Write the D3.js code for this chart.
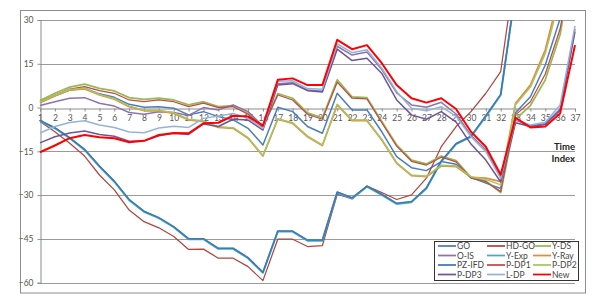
<!DOCTYPE html>
<html>
<head>
<meta charset="utf-8">
<script src="https://cdn.jsdelivr.net/npm/d3@7"></script>
<style>
  body { margin: 0; background: #fff; }
  svg text { font-family: Lato, "Open Sans", sans-serif; }
</style>
</head>
<body>
<div id="chart"></div>
<script>
// time index categories
var timeIndex = [1,2,3,4,5,6,7,8,9,10,11,12,13,14,15,16,17,18,19,20,21,22,23,24,25,26,27,28,29,30,31,32,33,34,35,36,37];
var yTicks = [30, 15, 0, -15, -30, -45, -60];

// series values (values above 30 run off the top of the plot)
var GO      = [1.8,4.0,6.0,6.6,4.7,3.5,1.1,0.1,0.3,-0.2,-2.5,-1.4,-3.1,-4.2,-7.1,-12.8,0.1,-1.4,-6.5,-8.8,4.9,-0.8,-0.8,-8.3,-16.8,-20.6,-21.6,-18.5,-19.4,-23.9,-25.9,-27.7,-1.8,3.7,14.6,30.5,52];
var HD_GO   = [-4.8,-8.3,-12.2,-16.6,-23.1,-28.2,-35.1,-39.1,-41.2,-44.2,-48.6,-48.5,-51.6,-51.6,-54.5,-59.3,-45.1,-45.1,-47.6,-47.3,-29.7,-31.3,-26.9,-29.1,-31.5,-29.9,-24.2,-13.4,-6.5,-1.4,4.9,12.3,48,62,70,78,85];
var Y_DS    = [2.4,4.9,7.0,8.0,6.6,5.7,3.4,2.8,3.2,2.6,0.9,2.0,0.3,0.7,-2.0,-6.5,4.8,3.2,-1.8,-3.5,9.5,3.7,3.4,-4.8,-12.8,-18.0,-19.3,-16.6,-18.2,-23.9,-25.1,-29.1,-4.0,0.7,9.5,25.0,55];
var O_IS    = [0.7,2.0,3.2,3.4,1.5,0.5,-1.7,-2.3,-1.4,-1.7,-2.7,0.0,-0.8,0.9,-1.4,-6.3,8.2,8.5,6.0,5.6,21.0,18.0,19.0,13.0,5.0,0.9,0.1,1.8,-2.2,-9.5,-14.5,-24.0,-4.3,-6.3,-5.5,-0.5,27.0];
var Y_Exp   = [-4.6,-7.1,-10.5,-14.5,-20.2,-25.4,-31.7,-35.7,-37.9,-41.0,-45.1,-45.1,-48.4,-48.4,-51.6,-56.6,-42.5,-42.5,-45.6,-45.6,-29.1,-31.1,-27.1,-29.9,-33.0,-32.4,-27.7,-18.5,-12.5,-10.0,-3.0,4.3,40,58,68,76,84];
var Y_Ray   = [1.7,4.0,6.0,6.4,4.3,2.9,0.3,-1.1,-1.1,-2.0,-4.2,-4.8,-6.8,-7.1,-10.5,-16.6,-4.0,-5.4,-10.0,-13.0,0.9,-4.5,-4.5,-11.1,-19.1,-23.3,-23.7,-20.0,-20.2,-23.9,-24.2,-25.4,1.5,7.7,19.7,40,60];
var PZ_IFD  = [-4.4,-6.9,-10.3,-14.3,-20.0,-25.2,-31.5,-35.5,-37.7,-40.8,-44.9,-44.9,-48.2,-48.2,-51.4,-56.4,-42.3,-42.3,-45.4,-45.4,-28.9,-30.9,-26.9,-29.7,-32.8,-32.2,-27.5,-18.3,-12.3,-9.8,-2.8,4.5,40,58,68,76,84];
var P_DP1   = [2.0,4.3,6.3,7.2,5.8,4.9,2.6,2.0,2.6,2.0,0.3,1.5,0.0,0.3,-2.3,-6.8,4.3,2.6,-2.3,-4.0,8.7,3.2,3.0,-5.2,-13.2,-18.4,-19.7,-17.0,-18.6,-24.2,-25.4,-28.8,-2.5,2.0,11.5,27,55];
var P_DP2   = [1.9,4.2,6.2,6.6,4.5,3.1,0.5,-0.9,-0.9,-1.8,-4.0,-4.6,-6.6,-6.9,-10.3,-16.4,-3.8,-5.2,-9.8,-12.8,1.1,-4.3,-4.3,-10.9,-18.9,-23.1,-23.5,-19.8,-20.0,-23.7,-24.6,-26.5,1.0,7.0,18.5,38,58];
var P_DP3   = [-12.1,-10.0,-8.7,-8.0,-9.2,-9.8,-11.5,-11.4,-9.7,-8.8,-9.2,-5.6,-6.5,-4.0,-4.3,-7.7,7.7,8.2,5.8,5.3,20.0,16.1,16.9,11.7,2.6,-2.5,-4.0,-1.4,-5.0,-12.5,-18.0,-25.5,-5.2,-6.5,-5.8,-1.0,26.0];
var L_DP    = [-8.7,-6.5,-5.1,-4.5,-6.0,-6.8,-8.4,-8.6,-7.0,-6.4,-6.8,-3.7,-2.9,-2.0,-3.7,-7.1,9.0,9.2,6.5,6.3,21.8,18.8,19.8,13.5,5.5,-0.2,-1.1,0.3,-3.0,-10.0,-15.1,-24.3,-4.0,-6.0,-5.0,0.9,28.0];
var New     = [-15.3,-13.0,-10.5,-9.4,-10.2,-10.5,-11.9,-11.4,-9.4,-8.7,-8.8,-5.4,-5.2,-2.8,-3.1,-6.2,9.5,10.0,7.7,7.7,23.2,20.0,21.4,15.2,7.7,3.2,1.7,3.2,-0.5,-8.3,-13.4,-23.0,-3.5,-6.8,-6.5,-2.0,21.4];

var seriesNames = ["GO","HD-GO","Y-DS","O-IS","Y-Exp","Y-Ray","PZ-IFD","P-DP1","P-DP2","P-DP3","L-DP","New"];
var seriesValues = [GO, HD_GO, Y_DS, O_IS, Y_Exp, Y_Ray, PZ_IFD, P_DP1, P_DP2, P_DP3, L_DP, New];
var seriesColors = ["#4A7EBB","#B0463F","#98B954","#8B74B0","#46AAC5","#E8893A","#3F78B5","#BE4B48","#A6C463","#6F5597","#95B3D7","#FF0000"];
var seriesWidths = [1.5,1.25,1.75,1.5,2,1.75,1.5,1.25,1.5,1.5,1.5,2];

var W = 605, H = 305;
var svg = d3.select("#chart").append("svg")
  .attr("width", W)
  .attr("height", H);

// outer chart border
svg.append("rect")
  .attr("x", 20.5).attr("y", 10.5)
  .attr("width", 565).attr("height", 282.5)
  .attr("fill", "none")
  .attr("stroke", "#8c8c8c");

var x = d3.scalePoint().domain(timeIndex).range([40, 575]);
var y = d3.scaleLinear().domain([-60, 30]).range([282.7, 20]);

// gridlines
svg.append("g")
  .selectAll("line")
  .data(yTicks.filter(function(d) { return d !== 0; }))
  .enter().append("line")
  .attr("x1", 40).attr("x2", 575)
  .attr("y1", function(d) { return Math.round(y(d)) + 0.5; })
  .attr("y2", function(d) { return Math.round(y(d)) + 0.5; })
  .attr("stroke", "#9a9a9a")
  .attr("stroke-width", 1);

// y axis
var yAxis = svg.append("g")
  .attr("transform", "translate(40.5,0)")
  .call(d3.axisLeft(y).tickValues(yTicks).tickSize(3).tickPadding(4).tickFormat(d3.format("d")));
yAxis.selectAll("line, path").attr("stroke", "#8c8c8c");
yAxis.selectAll("text").attr("fill", "#555").style("font-size", "8.5px");

// x axis through zero
var xAxis = svg.append("g")
  .attr("transform", "translate(0," + (Math.round(y(0)) + 0.5) + ")")
  .call(d3.axisBottom(x).tickSize(3).tickPadding(3));
xAxis.selectAll("line, path").attr("stroke", "#8c8c8c");
xAxis.selectAll("text").attr("fill", "#555").style("font-size", "8.5px");

// axis title
var title = svg.append("text")
  .attr("text-anchor", "end")
  .attr("fill", "#222")
  .style("font-size", "9.5px")
  .style("font-weight", "bold");
title.append("tspan").attr("x", 575).attr("y", 150).text("Time");
title.append("tspan").attr("x", 575).attr("y", 162).text("Index");

// clip lines to the plot area
svg.append("clipPath").attr("id", "plotClip")
  .append("rect")
  .attr("x", 30).attr("y", y(30))
  .attr("width", 560).attr("height", y(-60) - y(30));

var line = d3.line()
  .x(function(d, i) { return x(timeIndex[i]); })
  .y(function(d) { return y(d); });

svg.append("g")
  .attr("clip-path", "url(#plotClip)")
  .selectAll("path")
  .data(seriesValues)
  .enter().append("path")
  .attr("d", line)
  .attr("fill", "none")
  .attr("stroke", function(d, i) { return seriesColors[i]; })
  .attr("stroke-width", function(d, i) { return seriesWidths[i]; })
  .attr("stroke-linejoin", "round");

// legend
var legend = svg.append("g");
legend.append("rect")
  .attr("x", 434.5).attr("y", 241.5)
  .attr("width", 144).attr("height", 39)
  .attr("fill", "#fff")
  .attr("stroke", "#333");

var colX = [438, 487, 533];
var rowY = [246, 255.5, 265, 274.5];
seriesNames.forEach(function(name, i) {
  var cx = colX[i % 3], cy = rowY[Math.floor(i / 3)];
  legend.append("line")
    .attr("x1", cx).attr("x2", cx + 18)
    .attr("y1", cy).attr("y2", cy)
    .attr("stroke", seriesColors[i])
    .attr("stroke-width", 1.75);
  legend.append("text")
    .attr("x", cx + 19).attr("y", cy + 3)
    .attr("fill", "#444")
    .style("font-size", "8.5px")
    .text(name);
});
</script>
</body>
</html>
